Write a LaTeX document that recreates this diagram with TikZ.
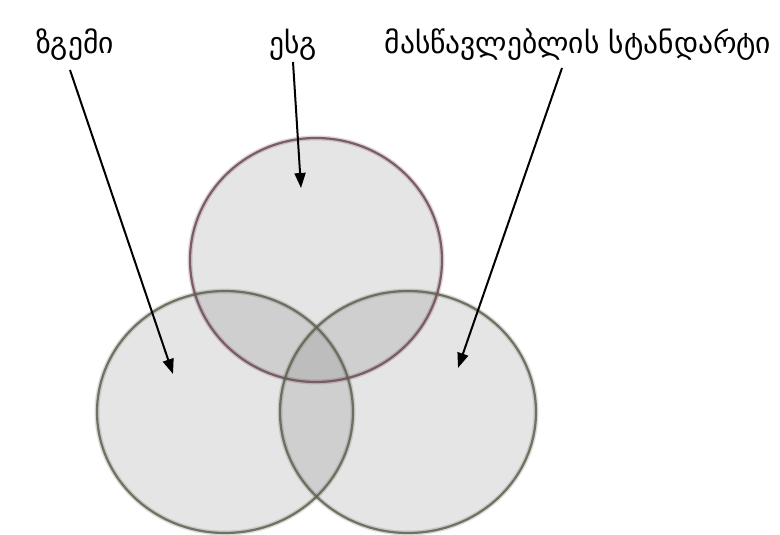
\documentclass[tikz,border=0pt]{standalone}
\usepackage{fontspec}
\newfontfamily\geofont{DejaVu Sans}
\usetikzlibrary{arrows.meta,shapes.geometric}
\definecolor{topedge}{HTML}{6E4A52}
\definecolor{lowedge}{HTML}{5E6250}
\definecolor{bubble}{HTML}{666666}
\tikzset{
  lbl/.style={font=\geofont\fontsize{29.5}{34}\selectfont, inner sep=0pt, anchor=base},
  bub/.style={ellipse, fill=bubble, fill opacity=0.17, line width=2.2pt, draw opacity=0.85},
  glow/.style={ellipse, line width=5pt, draw opacity=0.22},
  ptr/.style={line width=2pt, -{Triangle[length=15pt,width=11pt]}},
}
\begin{document}
\begin{tikzpicture}[x=1pt,y=-1pt]
\useasboundingbox[fill=white] (0,0) rectangle (780,535);
\node[bub, draw=topedge, minimum width=252pt, minimum height=244pt] (top) at (316,260) {};
\node[bub, draw=lowedge, minimum width=256pt, minimum height=242pt] (left) at (225,412) {};
\node[bub, draw=lowedge, minimum width=256pt, minimum height=242pt] (right) at (408,412) {};
\node[glow, draw=topedge, minimum width=252pt, minimum height=244pt] (topg) at (top.center) {};
\node[glow, draw=lowedge, minimum width=256pt, minimum height=242pt] (leftg) at (left.center) {};
\node[glow, draw=lowedge, minimum width=256pt, minimum height=242pt] (rightg) at (right.center) {};
\node[lbl] (l1) at (75,54) {ზგემი};
\node[lbl] (l2) at (293,54) {ესგ};
\node[lbl] (l3) at (578,54) {მასწავლებლის სტანდარტი};
\coordinate (s1) at (70,70);
\coordinate (t1) at (173,374);
\coordinate (s2) at (293,62);
\coordinate (t2) at (301,188);
\coordinate (s3) at (562,68);
\coordinate (t3) at (458,368);
\draw[ptr] (s1) -- (t1);
\draw[ptr] (s2) -- (t2);
\draw[ptr] (s3) -- (t3);
\end{tikzpicture}
\end{document}
